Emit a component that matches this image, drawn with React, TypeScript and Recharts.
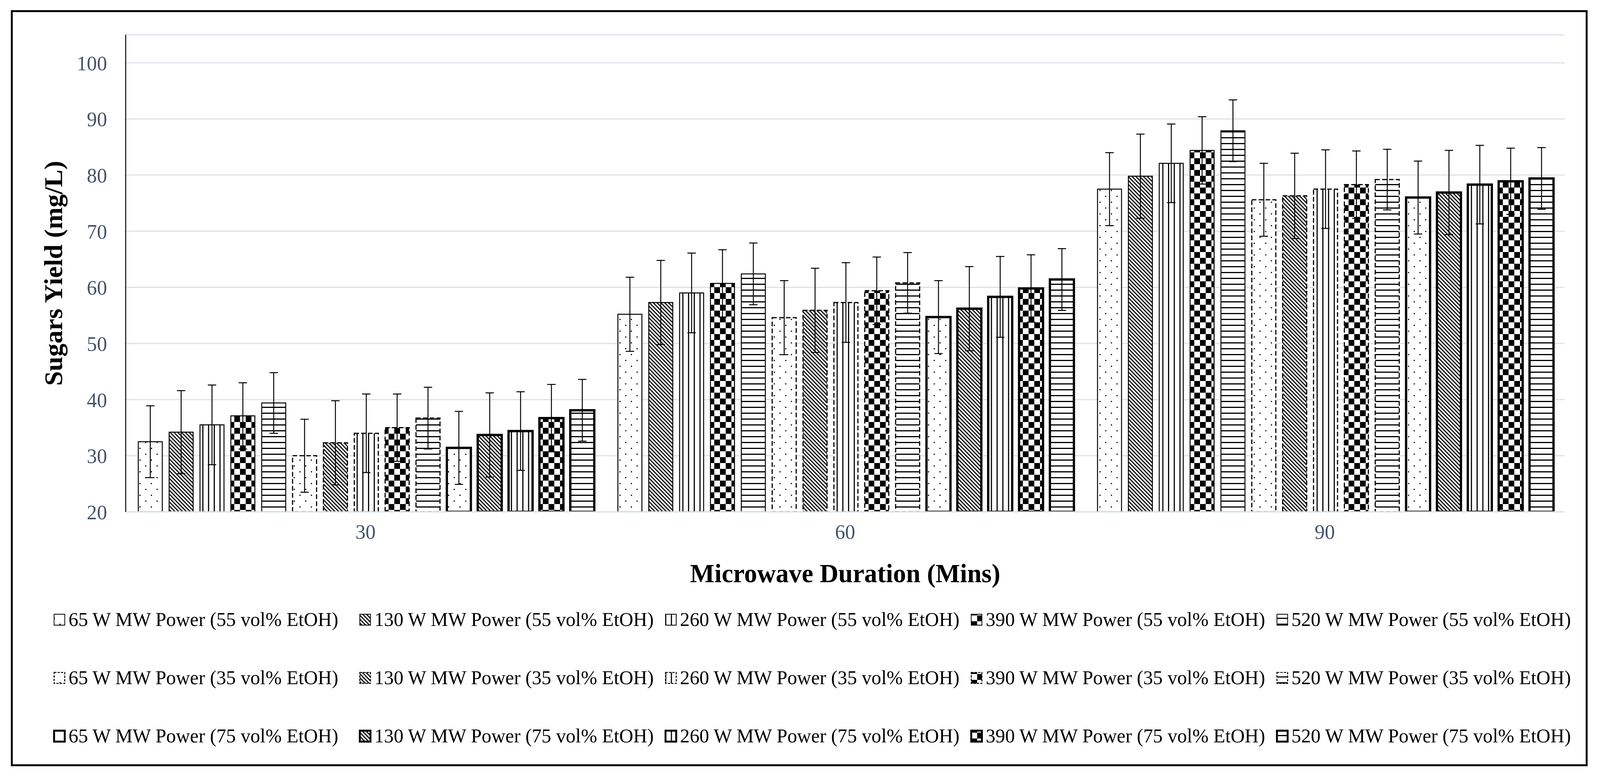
import React from 'react'
import { BarChart, Bar, XAxis, YAxis, CartesianGrid, ErrorBar, Label } from 'recharts'

const DURATIONS = ['30', '60', '90']
const POWERS = [65, 130, 260, 390, 520]
const ETHANOL = [55, 35, 75]
const Y_TICKS = [20, 30, 40, 50, 60, 70, 80, 90, 100]

// sugars yield (mg/L): one row per MW power, columns are 30 / 60 / 90 min
const YIELD_55 = [
  [32.5, 55.2, 77.5],
  [34.2, 57.3, 79.8],
  [35.5, 59.0, 82.1],
  [37.1, 60.7, 84.4],
  [39.4, 62.4, 87.9],
]
const YIELD_35 = [
  [30.0, 54.6, 75.6],
  [32.3, 55.9, 76.3],
  [34.0, 57.3, 77.5],
  [35.0, 59.4, 78.3],
  [36.7, 60.8, 79.2],
]
const YIELD_75 = [
  [31.4, 54.7, 76.0],
  [33.7, 56.2, 76.9],
  [34.4, 58.3, 78.3],
  [36.7, 59.8, 78.9],
  [38.1, 61.4, 79.4],
]

// +/- error
const ERR_55 = [
  [6.4, 6.6, 6.5],
  [7.4, 7.5, 7.5],
  [7.1, 7.1, 7.0],
  [5.9, 6.0, 6.0],
  [5.4, 5.5, 5.5],
]
const ERR_35 = [
  [6.5, 6.6, 6.5],
  [7.5, 7.5, 7.6],
  [7.0, 7.1, 7.0],
  [6.0, 6.0, 6.0],
  [5.5, 5.4, 5.4],
]
const ERR_75 = [
  [6.5, 6.5, 6.5],
  [7.5, 7.5, 7.5],
  [7.0, 7.2, 7.0],
  [6.0, 6.0, 5.9],
  [5.5, 5.5, 5.5],
]

const YIELDS = [YIELD_55, YIELD_35, YIELD_75]
const ERRORS = [ERR_55, ERR_35, ERR_75]
const PATTERNS = ['p-dots', 'p-diag', 'p-vert', 'p-check', 'p-horiz']

const FONT = '"Liberation Serif", "Times New Roman", serif'
const TICK_COLOR = '#44546A'
const GRID_COLOR = '#dde1e8'

const W = 4200
const H = 1986

// border look per ethanol level: 55 thin, 35 dashed, 75 thick
const BORDER_WIDTH = [2.5, 3, 6]
const BORDER_DASH = [undefined, '12 6', undefined]
const LEGEND_BORDER = [2, 2.5, 5]
const LEGEND_DASH = [undefined, '6 3', undefined]

const SERIES = ETHANOL.flatMap((etoh, g) =>
  POWERS.map((p, i) => ({
    key: `y${g}_${i}`,
    errKey: `e${g}_${i}`,
    name: `${p} W MW Power (${etoh} vol% EtOH)`,
    pattern: PATTERNS[i],
    group: g,
    power: i,
  }))
)

const data = DURATIONS.map((dur, j) => {
  const row: Record<string, string | number> = { dur }
  SERIES.forEach((s) => {
    row[s.key] = YIELDS[s.group][s.power][j]
    row[s.errKey] = ERRORS[s.group][s.power][j]
  })
  return row
})

function PatternDefs() {
  return (
    <svg width={0} height={0} style={{ position: 'absolute', left: 0, top: 0 }}>
      <defs>
        <pattern id="p-dots" width={30} height={30} patternUnits="userSpaceOnUse">
          <rect width={30} height={30} fill="#fff" />
          <rect x={6} y={6} width={3} height={3} fill="#000" />
          <rect x={21} y={21} width={3} height={3} fill="#000" />
        </pattern>
        <pattern id="p-diag" width={10} height={10} patternUnits="userSpaceOnUse">
          <rect width={10} height={10} fill="#fff" />
          <path d="M-2,-2 L12,12 M-2,8 L2,12 M8,-2 L12,2" stroke="#151515" strokeWidth={3.2} />
        </pattern>
        <pattern id="p-vert" width={15} height={15} patternUnits="userSpaceOnUse">
          <rect width={15} height={15} fill="#fff" />
          <rect x={6} y={0} width={3} height={15} fill="#000" />
        </pattern>
        <pattern id="p-check" width={30} height={30} patternUnits="userSpaceOnUse">
          <rect width={30} height={30} fill="#fff" />
          <rect x={0} y={0} width={15} height={15} fill="#000" />
          <rect x={15} y={15} width={15} height={15} fill="#000" />
        </pattern>
        <pattern id="p-horiz" width={15} height={15} patternUnits="userSpaceOnUse">
          <rect width={15} height={15} fill="#fff" />
          <rect x={0} y={6} width={15} height={3} fill="#000" />
        </pattern>
      </defs>
    </svg>
  )
}

const XTitle = (props: any) => {
  const vb = props.viewBox || { x: 330, y: 1310, width: 3777, height: 200 }
  return (
    <text
      x={vb.x + vb.width / 2}
      y={vb.y + 180}
      textAnchor="middle"
      fontFamily={FONT}
      fontWeight="bold"
      fontSize={68}
      fill="#000"
    >
      Microwave Duration (Mins)
    </text>
  )
}

const YTitle = (props: any) => {
  const vb = props.viewBox || { x: 0, y: 89, width: 330, height: 1221 }
  const cx = vb.x + 163
  const cy = vb.y + vb.height / 2
  return (
    <text
      x={cx}
      y={cy}
      transform={`rotate(-90 ${cx} ${cy})`}
      textAnchor="middle"
      fontFamily={FONT}
      fontWeight="bold"
      fontSize={67}
      fill="#000"
    >
      Sugars Yield (mg/L)
    </text>
  )
}

export default function App() {
  // fit the 4200x1986 drawing into the real viewport if it is smaller
  const vw = typeof window !== 'undefined' ? window.innerWidth : W
  const vh = typeof window !== 'undefined' ? window.innerHeight : H
  const sx = Math.min(1, vw / W)
  const sy = Math.min(1, vh / H)

  return (
    <div
      style={{
        position: 'absolute',
        left: 0,
        top: 0,
        width: W,
        height: H,
        background: '#fff',
        transform: `scale(${sx}, ${sy})`,
        transformOrigin: '0 0',
      }}
    >
      <PatternDefs />
      <BarChart
        width={W}
        height={H}
        data={data}
        margin={{ top: 89, right: 93, left: 0, bottom: 476 }}
        barCategoryGap={33}
        barGap={18}
      >
        <CartesianGrid vertical={false} stroke={GRID_COLOR} strokeWidth={3} />
        <XAxis
          dataKey="dur"
          height={200}
          tickSize={0}
          tickMargin={31}
          tickLine={false}
          axisLine={{ stroke: GRID_COLOR, strokeWidth: 3 }}
          tick={{ fontSize: 53, fill: TICK_COLOR, fontFamily: FONT }}
        >
          <Label content={<XTitle />} />
        </XAxis>
        <XAxis
          xAxisId="top"
          orientation="top"
          dataKey="dur"
          height={0}
          tick={false}
          tickLine={false}
          axisLine={{ stroke: '#000', strokeWidth: 2.5 }}
        />
        <YAxis
          domain={[20, 105]}
          ticks={Y_TICKS}
          allowDataOverflow
          width={330}
          tickSize={0}
          tickMargin={49}
          tickLine={false}
          axisLine={{ stroke: '#000', strokeWidth: 2.5 }}
          tick={{ fontSize: 53, fill: TICK_COLOR, fontFamily: FONT }}
        >
          <Label content={<YTitle />} />
        </YAxis>
        <YAxis
          yAxisId="right"
          orientation="right"
          domain={[20, 105]}
          width={0}
          tick={false}
          tickLine={false}
          axisLine={{ stroke: '#000', strokeWidth: 2.5 }}
        />
        {SERIES.map((s) => (
          <Bar
            key={s.key}
            dataKey={s.key}
            name={s.name}
            fill={`url(#${s.pattern})`}
            stroke="#000"
            strokeWidth={BORDER_WIDTH[s.group]}
            strokeDasharray={BORDER_DASH[s.group]}
            isAnimationActive={false}
          >
            <ErrorBar
              dataKey={s.errKey}
              direction="y"
              width={11}
              stroke="#000"
              strokeWidth={2.5}
              isAnimationActive={false}
            />
          </Bar>
        ))}
      </BarChart>
      <svg width={W} height={H} style={{ position: 'absolute', left: 0, top: 0, pointerEvents: 'none' }}>
        <rect x={31} y={28.5} width={4134} height={1930} fill="none" stroke="#000" strokeWidth={5} />
        {SERIES.map((s, idx) => {
          const row = Math.floor(idx / 5)
          const col = idx % 5
          const x = 142 + col * 802.5
          const base = 1602 + row * 149
          return (
            <g key={s.key}>
              <rect
                x={x}
                y={base - 30}
                width={28}
                height={28}
                fill={`url(#${s.pattern})`}
                stroke="#000"
                strokeWidth={LEGEND_BORDER[s.group]}
                strokeDasharray={LEGEND_DASH[s.group]}
              />
              <text x={x + 38} y={base} fontSize={51} fontFamily={FONT} fill="#000">
                {s.name}
              </text>
            </g>
          )
        })}
      </svg>
    </div>
  )
}
